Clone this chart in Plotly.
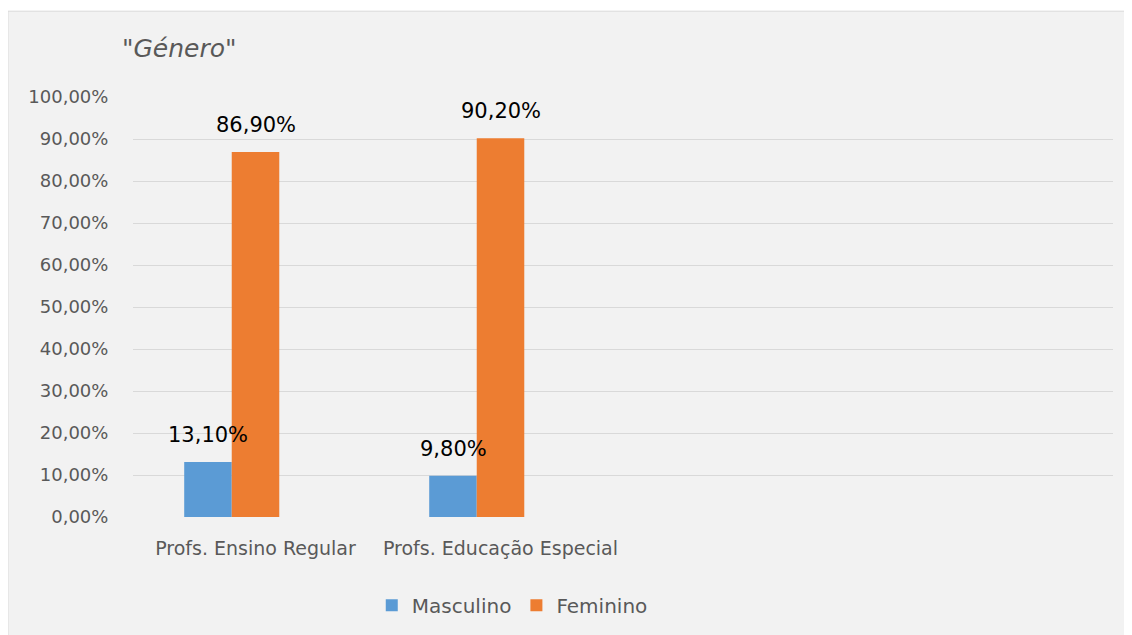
import plotly.graph_objects as go

# categories (the last two slots are empty in the original chart)
categories = ["Profs. Ensino Regular", "Profs. Educação Especial", " ", "  "]
masculino = [0.131, 0.098, None, None]
feminino = [0.869, 0.902, None, None]
# the source chart has an empty third series, which leaves a gap in each group
vazio = [None, None, None, None]

y_ticks = [0, 0.1, 0.2, 0.3, 0.4, 0.5, 0.6, 0.7, 0.8, 0.9, 1.0]

FONT = "DejaVu Sans"
GREY = "#595959"
BAR_W = 47.5  # px width of one bar, for placing value labels

fig = go.Figure()

fig.add_trace(
    go.Bar(
        x=categories,
        y=masculino,
        name="Masculino",
        marker=dict(color="#5b9bd5", line=dict(width=0)),
    )
)
fig.add_trace(
    go.Bar(
        x=categories,
        y=feminino,
        name="Feminino",
        marker=dict(color="#ed7d31", line=dict(width=0)),
    )
)
fig.add_trace(
    go.Bar(
        x=categories,
        y=vazio,
        name="",
        showlegend=False,
        marker=dict(color="#a5a5a5"),
    )
)

# value labels sit a little above each bar
for vals, shift in [(masculino, -BAR_W), (feminino, 0)]:
    for cat, v in zip(categories, vals):
        if v is None:
            continue
        fig.add_annotation(
            x=cat,
            y=v,
            text=f"{v * 100:.2f}%".replace(".", ","),
            xshift=shift,
            yshift=13,
            yanchor="bottom",
            showarrow=False,
            font=dict(family=FONT, size=21, color="black"),
        )

# grey chart area with thin border, white strip top/left like the source image
fig.add_shape(
    type="rect",
    xref="paper",
    yref="paper",
    x0=-0.1276,
    x1=1.03,
    y0=-0.30,
    y1=1.2043,
    fillcolor="#f2f2f2",
    line=dict(color="#d9d9d9", width=1),
    layer="below",
)

fig.add_annotation(
    text="<i>\"Género\"</i>",
    xref="paper",
    yref="paper",
    x=-0.013,
    y=1.116,
    xanchor="left",
    yanchor="middle",
    showarrow=False,
    font=dict(family=FONT, size=25, color=GREY),
)

fig.update_layout(
    width=1124,
    height=627,
    margin=dict(l=125, r=19, t=89, b=117),
    paper_bgcolor="white",
    plot_bgcolor="rgba(0,0,0,0)",
    separators=",.",
    barmode="group",
    bargap=0.418,
    bargroupgap=0,
    font=dict(family=FONT, size=18, color=GREY),
    showlegend=True,
    legend=dict(
        orientation="h",
        x=0.387,
        xanchor="center",
        y=-0.207,
        yanchor="middle",
        font=dict(family=FONT, size=20, color=GREY),
        bgcolor="rgba(0,0,0,0)",
        itemwidth=30,
    ),
    xaxis=dict(
        showgrid=False,
        showline=False,
        zeroline=False,
        ticks="outside",
        ticklen=14,
        tickcolor="rgba(0,0,0,0)",
        tickfont=dict(family=FONT, size=19, color=GREY),
    ),
    yaxis=dict(
        range=[0, 1],
        tickvals=y_ticks,
        tickformat=".2%",
        showgrid=True,
        gridcolor="#d9d9d9",
        gridwidth=1,
        zeroline=False,
        showline=False,
        ticks="outside",
        ticklen=20,
        tickcolor="rgba(0,0,0,0)",
        tickfont=dict(family=FONT, size=18, color=GREY),
    ),
)

fig.write_html("out.html")
